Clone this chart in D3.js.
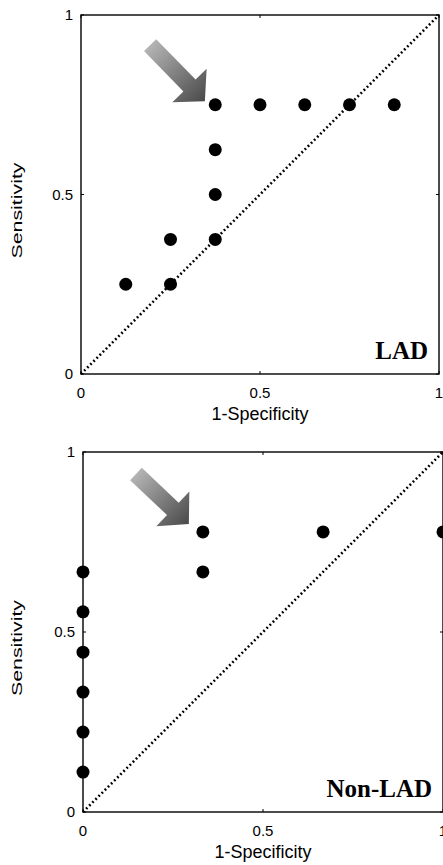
<!DOCTYPE html>
<html lang="en">
<head>
<meta charset="UTF-8">
<script src="https://d3js.org/d3.v7.min.js"></script>
<style>
body { margin: 0; background: #fff; }
svg { display: block; }
.tick-label { font-family: "Liberation Sans", Arial, sans-serif; font-size: 15px; fill: #000; }
.axis-title { font-family: "Liberation Sans", Arial, sans-serif; font-size: 18px; fill: #000; }
.panel-name { font-family: "Liberation Serif", "Times New Roman", serif; font-size: 25px; font-weight: bold; fill: #000; }
</style>
</head>
<body>
<svg id="canvas" width="443" height="865"></svg>
<script>
// data
let ladFpr = [0.125, 0.25, 0.25, 0.375, 0.375, 0.375, 0.375, 0.5, 0.625, 0.75, 0.875];
let ladTpr = [0.25, 0.25, 0.375, 0.375, 0.5, 0.625, 0.75, 0.75, 0.75, 0.75, 0.75];
let nonLadFpr = [0, 0, 0, 0, 0, 0, 0.333, 0.333, 0.667, 1];
let nonLadTpr = [0.111, 0.222, 0.333, 0.444, 0.556, 0.667, 0.667, 0.778, 0.778, 0.778];
let tickValues = [0, 0.5, 1];
let tickLabels = ['0', '0.5', '1'];
let panelNames = ['LAD', 'Non-LAD'];
// arrow annotations: [tailX, tailY, tipX, tipY] in data units
let ladArrow = [0.193, 0.916, 0.346, 0.76];
let nonLadArrow = [0.147, 0.939, 0.294, 0.8];

let canvas = d3.select('#canvas');

let panels = [
    { name: panelNames[0], fpr: ladFpr, tpr: ladTpr, arrow: ladArrow, left: 81, right: 439, top: 15, bottom: 374 },
    { name: panelNames[1], fpr: nonLadFpr, tpr: nonLadTpr, arrow: nonLadArrow, left: 83, right: 443, top: 452, bottom: 812 }
];

let defs = canvas.append('defs');

let drawPanel = (p, i) => {
    let x = d3.scaleLinear().domain([0, 1]).range([p.left, p.right]);
    let y = d3.scaleLinear().domain([0, 1]).range([p.bottom, p.top]);
    let g = canvas.append('g');

    // diagonal chance line
    g.append('line')
        .attr('x1', x(0)).attr('y1', y(0))
        .attr('x2', x(1)).attr('y2', y(1))
        .attr('stroke', '#000')
        .attr('stroke-width', 2.6)
        .attr('stroke-dasharray', '1.8,2.6');

    // box
    g.append('rect')
        .attr('x', x(0)).attr('y', y(1))
        .attr('width', x(1) - x(0)).attr('height', y(0) - y(1))
        .attr('fill', 'none')
        .attr('stroke', '#000')
        .attr('stroke-width', 1.4);

    // inner ticks on all four sides
    tickValues.forEach((t) => {
        g.append('line').attr('x1', x(t)).attr('x2', x(t)).attr('y1', y(0)).attr('y2', y(0) - 3).attr('stroke', '#000');
        g.append('line').attr('x1', x(t)).attr('x2', x(t)).attr('y1', y(1)).attr('y2', y(1) + 3).attr('stroke', '#000');
        g.append('line').attr('y1', y(t)).attr('y2', y(t)).attr('x1', x(0)).attr('x2', x(0) + 3).attr('stroke', '#000');
        g.append('line').attr('y1', y(t)).attr('y2', y(t)).attr('x1', x(1)).attr('x2', x(1) - 3).attr('stroke', '#000');
    });

    // tick labels
    g.selectAll('.xt').data(tickValues).enter().append('text')
        .attr('class', 'tick-label')
        .attr('x', (d) => x(d))
        .attr('y', y(0) + 24)
        .attr('text-anchor', 'middle')
        .text((d, k) => tickLabels[k]);

    g.selectAll('.yt').data(tickValues).enter().append('text')
        .attr('class', 'tick-label')
        .attr('x', x(0) - 8)
        .attr('y', (d) => y(d) + 5)
        .attr('text-anchor', 'end')
        .text((d, k) => tickLabels[k]);

    // axis titles
    g.append('text')
        .attr('class', 'axis-title')
        .attr('x', x(0.5))
        .attr('y', y(0) + 46)
        .attr('text-anchor', 'middle')
        .text('1-Specificity');

    g.append('text')
        .attr('class', 'axis-title')
        .attr('transform', 'translate(22,' + (y(0.5) + 16) + ') rotate(-90)')
        .attr('text-anchor', 'middle')
        .style('font-size', '14px')
        .attr('textLength', 96)
        .attr('lengthAdjust', 'spacingAndGlyphs')
        .text('Sensitivity');

    // arrow
    let [ax0, ay0, ax1, ay1] = p.arrow;
    let tx = x(ax0), ty = y(ay0), hx = x(ax1), hy = y(ay1);
    let gradId = 'arrowGrad' + i;
    let grad = defs.append('linearGradient')
        .attr('id', gradId)
        .attr('gradientUnits', 'userSpaceOnUse')
        .attr('x1', tx).attr('y1', ty).attr('x2', hx).attr('y2', hy);
    grad.append('stop').attr('offset', '0%').attr('stop-color', '#b4b4b4');
    grad.append('stop').attr('offset', '100%').attr('stop-color', '#4a4a4a');

    let len = Math.hypot(hx - tx, hy - ty);
    let angle = Math.atan2(hy - ty, hx - tx);
    let shaftW = 17, headW = 48, headL = 22;
    let pts = [
        [0, -shaftW / 2], [len - headL, -shaftW / 2], [len - headL, -headW / 2],
        [len, 0],
        [len - headL, headW / 2], [len - headL, shaftW / 2], [0, shaftW / 2]
    ];
    g.append('polygon')
        .attr('points', pts.map((q) => {
            return (tx + q[0] * Math.cos(angle) - q[1] * Math.sin(angle)) + ',' + (ty + q[0] * Math.sin(angle) + q[1] * Math.cos(angle));
        }).join(' '))
        .attr('fill', 'url(#' + gradId + ')');

    // points
    g.selectAll('circle').data(p.fpr).enter().append('circle')
        .attr('cx', (d) => x(d))
        .attr('cy', (d, k) => y(p.tpr[k]))
        .attr('r', 6.5)
        .attr('fill', '#000');

    // panel name
    g.append('text')
        .attr('class', 'panel-name')
        .attr('x', x(1) - 11)
        .attr('y', y(0) - 15)
        .attr('text-anchor', 'end')
        .text(p.name);
};

panels.forEach(drawPanel);
</script>
</body>
</html>
